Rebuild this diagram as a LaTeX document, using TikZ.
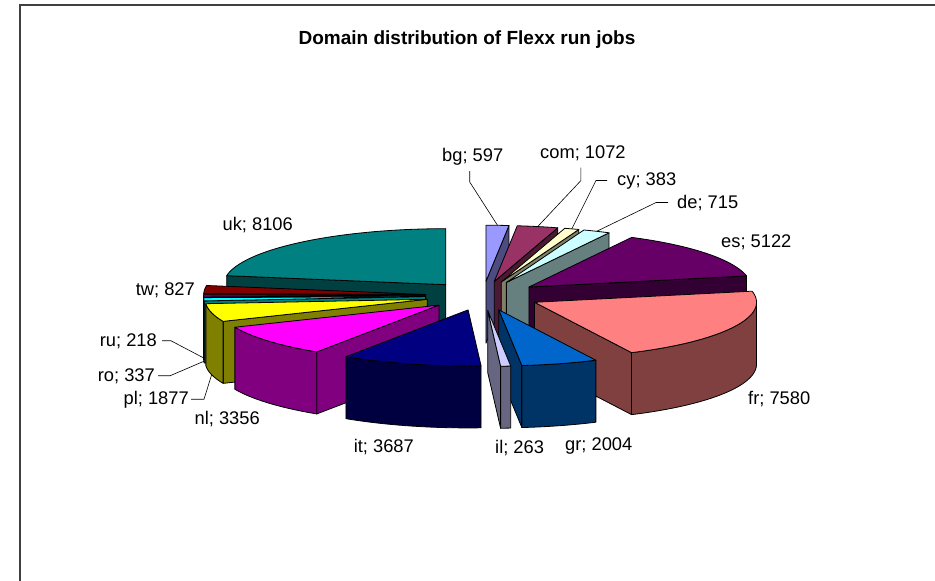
\documentclass[tikz,border=0pt]{standalone}
\usepackage{fontspec}
\setmainfont{Liberation Sans}
\usepackage{tikz}
\usetikzlibrary{calc}
\usepackage{color}

\definecolor{cbg}{HTML}{9999FF}
\definecolor{ccom}{HTML}{993366}
\definecolor{ccy}{HTML}{FFFFCC}
\definecolor{cde}{HTML}{CCFFFF}
\definecolor{ces}{HTML}{660066}
\definecolor{cfr}{HTML}{FF8080}
\definecolor{cgr}{HTML}{0066CC}
\definecolor{cil}{HTML}{CCCCFF}
\definecolor{cit}{HTML}{000080}
\definecolor{cnl}{HTML}{FF00FF}
\definecolor{cpl}{HTML}{FFFF00}
\definecolor{cro}{HTML}{00FFFF}
\definecolor{cru}{HTML}{800080}
\definecolor{ctw}{HTML}{800000}
\definecolor{cuk}{HTML}{008080}

% pie: centre, radii, explosion, depth
\newcommand{\pcx}{483}
\newcommand{\pcy}{295.8}
\newcommand{\pra}{222}
\newcommand{\prb}{56}
\newcommand{\pex}{57.5}
\newcommand{\pey}{14.6}
\newcommand{\pdep}{62}

% #1 start angle, #2 end angle, #3 colour, #4 name
\newcommand{\pieslice}[4]{%
  \pgfmathsetmacro{\slm}{(#1+#2)/2}%
  \pgfmathsetmacro{\slax}{\pcx+\pex*sin(\slm)}%
  \pgfmathsetmacro{\slay}{\pcy-\pey*cos(\slm)}%
  \pgfmathtruncatemacro{\slvis}{sin(#1)<0}%
  \ifnum\slvis=1
    \filldraw[facet,fill=#3!50!black] (\slax,\slay) -- ({\slax+\pra*sin(#1)},{\slay-\prb*cos(#1)}) -- ++(0,\pdep) -- (\slax,{\slay+\pdep}) -- cycle;
  \fi
  \pgfmathtruncatemacro{\slvis}{sin(#2)>0}%
  \ifnum\slvis=1
    \filldraw[facet,fill=#3!50!black] (\slax,\slay) -- ({\slax+\pra*sin(#2)},{\slay-\prb*cos(#2)}) -- ++(0,\pdep) -- (\slax,{\slay+\pdep}) -- cycle;
  \fi
  \pgfmathsetmacro{\sla}{max(#1,90)}%
  \pgfmathsetmacro{\slb}{min(#2,270)}%
  \pgfmathtruncatemacro{\slvis}{\sla<\slb}%
  \ifnum\slvis=1
    \filldraw[facet,fill=#3!50!black] plot[domain=\sla:\slb] ({\slax+\pra*sin(\x)},{\slay-\prb*cos(\x)}) -- plot[domain=\slb:\sla] ({\slax+\pra*sin(\x)},{\slay-\prb*cos(\x)+\pdep}) -- cycle;
  \fi
  \filldraw[facet,fill=#3] (\slax,\slay) -- plot[domain=#1:#2] ({\slax+\pra*sin(\x)},{\slay-\prb*cos(\x)}) -- cycle;
  \coordinate (#4top) at ({\slax+\pra*sin(\slm)},{\slay-\prb*cos(\slm)});
  \coordinate (#4bot) at ({\slax+\pra*sin(\slm)},{\slay-\prb*cos(\slm)+\pdep});
}

\begin{document}
\begin{tikzpicture}
	[x=1pt,y=-1pt]
	\tikzstyle{facet}=[draw=black, line width=0.8pt, line join=round, samples=40]
	\tikzstyle{lab}=[inner sep=0pt, font=\fontsize{18.3}{22}\selectfont]
	\tikzstyle{leader}=[draw=black, line width=0.6pt]
	\useasboundingbox (0,0) rectangle (935,581);
	\draw[line width=1.5pt, draw=black!75] (20,581) -- (20,5) -- (935,5);
	
	\node[inner sep=0pt, anchor=base, font=\fontsize{19}{23}\selectfont\bfseries] (title) at (467,44) {Domain distribution of Flexx run jobs};
	
	% back slices first
	\pieslice{0}{5.946}{cbg}{bg}
	\pieslice{5.946}{16.624}{ccom}{com}
	\pieslice{16.624}{20.438}{ccy}{cy}
	\pieslice{20.438}{27.560}{cde}{de}
	\pieslice{279.264}{360}{cuk}{uk}
	\pieslice{27.560}{78.576}{ces}{es}
	\pieslice{271.027}{279.264}{ctw}{tw}
	\pieslice{268.855}{271.027}{cru}{ru}
	\pieslice{265.499}{268.855}{cro}{ro}
	\pieslice{246.803}{265.499}{cpl}{pl}
	\pieslice{78.576}{154.074}{cfr}{fr}
	\pieslice{213.377}{246.803}{cnl}{nl}
	\pieslice{154.074}{174.034}{cgr}{gr}
	\pieslice{176.654}{213.377}{cit}{it}
	\pieslice{174.034}{176.654}{cil}{il}
	
	\node[lab, anchor=base west] (bglab) at (442,161) {bg; 597};
	\node[lab, anchor=base west] (comlab) at (540,158) {com; 1072};
	\node[lab, anchor=base west] (cylab) at (617,185) {cy; 383};
	\node[lab, anchor=base west] (delab) at (677,208) {de; 715};
	\node[lab, anchor=base west] (eslab) at (721,247) {es; 5122};
	\node[lab, anchor=base west] (frlab) at (748,404) {fr; 7580};
	\node[lab, anchor=base west] (grlab) at (565,450) {gr; 2004};
	\node[lab, anchor=base west] (illab) at (495,453) {il; 263};
	\node[lab, anchor=base east] (itlab) at (414,452) {it; 3687};
	\node[lab, anchor=base east] (nllab) at (260,424) {nl; 3356};
	\node[lab, anchor=base east] (pllab) at (189,404) {pl; 1877};
	\node[lab, anchor=base east] (rolab) at (155,381) {ro; 337};
	\node[lab, anchor=base east] (rulab) at (157,346) {ru; 218};
	\node[lab, anchor=base east] (twlab) at (195,295) {tw; 827};
	\node[lab, anchor=base east] (uklab) at (293,230) {uk; 8106};
	
	\draw[leader] ([shift={(-3pt,-6pt)}]bglab.south) -- ++(0,11) -- (bgtop);
	\draw[leader] ([shift={(-2pt,-7pt)}]comlab.south) -- ++(0,13) -- (comtop);
	\draw[leader] ([xshift=-10pt]cylab.west) -- ++(-11,0) -- (cytop);
	\draw[leader] ([xshift=-9pt]delab.west) -- ++(-12,0) -- (detop);
	\draw[leader] ([xshift=5pt]rulab.east) -- ++(9,0) -- (rubot);
	\draw[leader] ([xshift=3pt]rolab.east) -- ++(12,0) -- (robot);
	\draw[leader] ([xshift=2pt]pllab.east) -- ++(13,0) -- (plbot);
\end{tikzpicture}
\end{document}
